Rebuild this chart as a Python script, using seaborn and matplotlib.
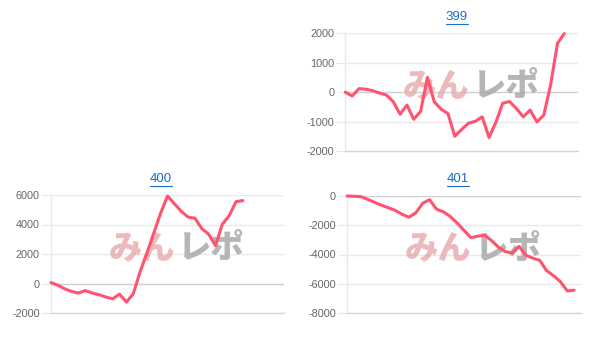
import matplotlib
matplotlib.use("Agg")
import matplotlib.pyplot as plt
import seaborn as sns
import pandas as pd
from matplotlib.lines import Line2D

# ---- data ----
titles = ["399", "400", "401"]
values_399 = [0, -130, 120, 100, 50, -30, -100, -320, -750, -440, -920, -660, 500,
              -330, -580, -730, -1500, -1265, -1055, -990, -840, -1540, -1025, -375,
              -320, -555, -840, -610, -1010, -780, 250, 1660, 1990]
values_400 = [60, -120, -360, -540, -650, -480, -640, -760, -920, -1040, -720, -1260,
              -700, 790, 2070, 3420, 4770, 5930, 5410, 4900, 4500, 4430, 3720, 3350,
              2560, 4020, 4600, 5550, 5620]
values_401 = [0, -20, -40, -230, -430, -630, -800, -980, -1250, -1450, -1150, -500,
              -250, -900, -1080, -1400, -1850, -2350, -2850, -2750, -2680, -3050,
              -3500, -3800, -3900, -3450, -4050, -4250, -4400, -5100, -5450, -5850,
              -6490, -6440]
y_ticks_399 = [-2000, -1000, 0, 1000, 2000]
y_ticks_400 = [-2000, 0, 2000, 4000, 6000]
y_ticks_401 = [-8000, -6000, -4000, -2000, 0]
n_labels = 35

sns.set_theme(style="white")
plt.rcParams["font.family"] = ["Liberation Sans", "DejaVu Sans"]

W, H = 609, 351
fig = plt.figure(figsize=(W / 100, H / 100), dpi=100)
fig.patch.set_facecolor("white")

LINE = "#ff5370"
GRID = "#e9e9e9"
ZERO = "#cfcfcf"

panels = [
    ("399", values_399, y_ticks_399, (345.3, 33.3, 578.0, 151.0), (456.5, 17.0)),
    ("400", values_400, y_ticks_400, (51.0, 195.0, 284.0, 313.0), (161.0, 179.0)),
    ("401", values_401, y_ticks_401, (347.0, 196.0, 581.0, 313.0), (457.8, 179.0)),
]

for title, vals, ticks, (l, t, r, b), (tx, ty) in panels:
    ax = fig.add_axes([l / W, 1 - b / H, (r - l) / W, (b - t) / H])
    df = pd.DataFrame({"x": range(len(vals)), "y": vals})
    sns.lineplot(data=df, x="x", y="y", ax=ax, color=LINE, linewidth=2.2,
                 zorder=5, clip_on=False)
    ax.set_xlim(0, n_labels - 1)
    ax.set_ylim(min(ticks), max(ticks))
    ax.set_yticks(ticks)
    ax.set_yticklabels([str(v) for v in ticks])
    ax.set_xticks([])
    ax.set_xlabel("")
    ax.set_ylabel("")
    ax.set_facecolor("white")
    for v in ticks:
        ax.axhline(v, color=ZERO if v == 0 else GRID, linewidth=1.0, zorder=1)
    for s in ["top", "right"]:
        ax.spines[s].set_visible(False)
    ax.spines["left"].set_color(GRID)
    ax.spines["left"].set_linewidth(1.0)
    ax.spines["bottom"].set_color("#d6d6d6")
    ax.spines["bottom"].set_linewidth(1.0)
    ax.tick_params(axis="y", length=6.5, width=0.8, color=GRID, pad=1.5,
                   labelsize=7.8, labelcolor="#666666", left=True)
    # watermark
    ax.text(0.54 - 0.150, 0.555, "みん", transform=ax.transAxes, ha="center",
            va="center", fontsize=24, fontweight="heavy", color="#e8a9ab",
            alpha=0.8, family=["Noto Sans CJK JP"], zorder=2)
    ax.text(0.54 + 0.150, 0.555, "レポ", transform=ax.transAxes, ha="center",
            va="center", fontsize=24, fontweight="heavy", color="#a9a9a9",
            alpha=0.85, family=["Noto Sans CJK JP"], zorder=2)
    # title (link style)
    fig.text(tx / W, 1 - ty / H, title, ha="center", va="center", fontsize=9.5,
             color="#1a6dcc")
    fig.add_artist(Line2D([(tx - 11) / W, (tx + 11) / W],
                          [1 - (ty + 6.5) / H, 1 - (ty + 6.5) / H],
                          color="#1a6dcc", linewidth=0.8))

fig.savefig("out.png", dpi=100, facecolor="white")
